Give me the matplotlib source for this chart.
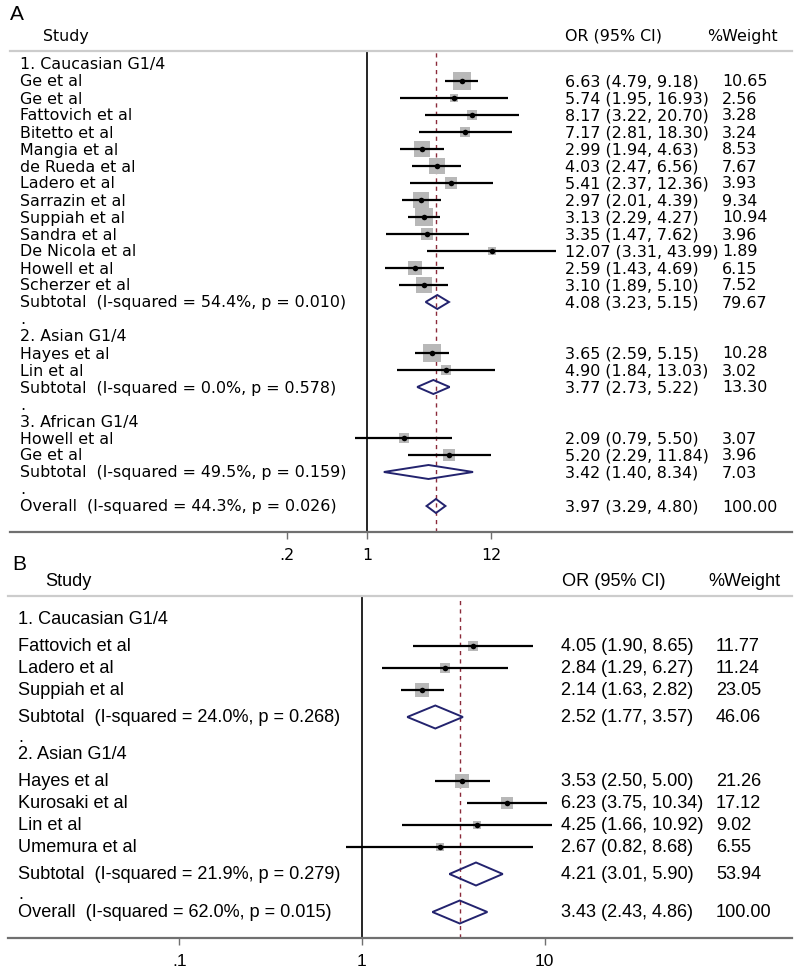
import matplotlib.pyplot as plt
import matplotlib.transforms as mtransforms
import numpy as np


# DATA - panel A (G1/4)

a_cau_names = ["Ge et al", "Ge et al", "Fattovich et al", "Bitetto et al",
               "Mangia et al", "de Rueda et al", "Ladero et al", "Sarrazin et al",
               "Suppiah et al", "Sandra et al", "De Nicola et al", "Howell et al",
               "Scherzer et al"]
a_cau_or = [6.63, 5.74, 8.17, 7.17, 2.99, 4.03, 5.41, 2.97, 3.13, 3.35, 12.07, 2.59, 3.10]
a_cau_lo = [4.79, 1.95, 3.22, 2.81, 1.94, 2.47, 2.37, 2.01, 2.29, 1.47, 3.31, 1.43, 1.89]
a_cau_hi = [9.18, 16.93, 20.70, 18.30, 4.63, 6.56, 12.36, 4.39, 4.27, 7.62, 43.99, 4.69, 5.10]
a_cau_w = [10.65, 2.56, 3.28, 3.24, 8.53, 7.67, 3.93, 9.34, 10.94, 3.96, 1.89, 6.15, 7.52]
a_cau_sub = [4.08, 3.23, 5.15, 79.67, 54.4, 0.010]   # OR, lo, hi, weight, I2, p

a_asi_names = ["Hayes et al", "Lin et al"]
a_asi_or = [3.65, 4.90]
a_asi_lo = [2.59, 1.84]
a_asi_hi = [5.15, 13.03]
a_asi_w = [10.28, 3.02]
a_asi_sub = [3.77, 2.73, 5.22, 13.30, 0.0, 0.578]

a_afr_names = ["Howell et al", "Ge et al"]
a_afr_or = [2.09, 5.20]
a_afr_lo = [0.79, 2.29]
a_afr_hi = [5.50, 11.84]
a_afr_w = [3.07, 3.96]
a_afr_sub = [3.42, 1.40, 8.34, 7.03, 49.5, 0.159]

a_overall = [3.97, 3.29, 4.80, 100.00, 44.3, 0.026]
a_ticks = [0.2, 1, 12]
a_tick_labels = [".2", "1", "12"]

# DATA - panel B

b_cau_names = ["Fattovich et al", "Ladero et al", "Suppiah et al"]
b_cau_or = [4.05, 2.84, 2.14]
b_cau_lo = [1.90, 1.29, 1.63]
b_cau_hi = [8.65, 6.27, 2.82]
b_cau_w = [11.77, 11.24, 23.05]
b_cau_sub = [2.52, 1.77, 3.57, 46.06, 24.0, 0.268]

b_asi_names = ["Hayes et al", "Kurosaki et al", "Lin et al", "Umemura et al"]
b_asi_or = [3.53, 6.23, 4.25, 2.67]
b_asi_lo = [2.50, 3.75, 1.66, 0.82]
b_asi_hi = [5.00, 10.34, 10.92, 8.68]
b_asi_w = [21.26, 17.12, 9.02, 6.55]
b_asi_sub = [4.21, 3.01, 5.90, 53.94, 21.9, 0.279]

b_overall = [3.43, 2.43, 4.86, 100.00, 62.0, 0.015]
b_ticks = [0.1, 1, 10]
b_tick_labels = [".1", "1", "10"]


# Build the list of rows of a forest plot

def build_rows(groups, overall):
    rows = []
    for head, names, ors, los, his, ws, sub in groups:
        rows.append(("head", head))
        for i in range(len(names)):
            rows.append(("study", names[i], ors[i], los[i], his[i], ws[i]))
        lab = "Subtotal  (I-squared = %.1f%%, p = %.3f)" % (sub[4], sub[5])
        rows.append(("sub", lab, sub[0], sub[1], sub[2], sub[3]))
        rows.append(("dot",))
    lab = "Overall  (I-squared = %.1f%%, p = %.3f)" % (overall[4], overall[5])
    rows.append(("sub", lab, overall[0], overall[1], overall[2], overall[3]))
    return rows


rows_a = build_rows([("1. Caucasian G1/4", a_cau_names, a_cau_or, a_cau_lo, a_cau_hi, a_cau_w, a_cau_sub),
                     ("2. Asian G1/4", a_asi_names, a_asi_or, a_asi_lo, a_asi_hi, a_asi_w, a_asi_sub),
                     ("3. African G1/4", a_afr_names, a_afr_or, a_afr_lo, a_afr_hi, a_afr_w, a_afr_sub)],
                    a_overall)
rows_b = build_rows([("1. Caucasian G1/4", b_cau_names, b_cau_or, b_cau_lo, b_cau_hi, b_cau_w, b_cau_sub),
                     ("2. Asian G1/4", b_asi_names, b_asi_or, b_asi_lo, b_asi_hi, b_asi_w, b_asi_sub)],
                    b_overall)


# Vertical layout (pixels from the top)

def rows_y_uniform(rows, y0, step):
    return [y0 + step * i for i in range(len(rows))]


def rows_y_gaps(rows, y0):
    ys = [y0]
    for prev, cur in zip(rows[:-1], rows[1:]):
        if cur[0] == "dot":
            gap = 20
        elif prev[0] == "dot":
            gap = 17 if cur[0] == "head" else 18
        elif cur[0] == "sub" or prev[0] == "head":
            gap = 27
        else:
            gap = 22
        ys.append(ys[-1] + gap)
    return ys


W, H = 797, 979
fig = plt.figure(figsize=(W / 100, H / 100), dpi=100)

GRAY_BOX = "#b8b8b8"
NAVY = "#23236e"
DASH_RED = "#8b2a3a"


def draw_panel(rows, ys, box, x_one, px_ln, cols, font, fsize, box_k, dia_h,
               ticks, tick_labels, tick_font, tick_size, headers_y):
    left, right, top, bottom = box
    ax = fig.add_axes([left / W, 1 - bottom / H, (right - left) / W, (bottom - top) / H])
    ax.set_ylim(bottom, top)
    ax.set_xscale("log")
    ax.set_xlim(np.exp((left - x_one) / px_ln), np.exp((right - x_one) / px_ln))

    tr = mtransforms.blended_transform_factory(fig.transFigure, ax.transData)
    lab_x, or_x, w_x = cols
    txt = dict(transform=tr, family=font, fontsize=fsize, va="center", ha="left",
               clip_on=False)

    overall = [r for r in rows if r[0] == "sub"][-1][2]
    ax.axvline(1, color="black", lw=1.2, zorder=1)
    ax.axvline(overall, color=DASH_RED, lw=1, ls=(0, (3, 3)), zorder=1)

    for r, y in zip(rows, ys):
        if r[0] == "head":
            ax.text(lab_x / W, y, r[1], **txt)
        elif r[0] == "dot":
            ax.text(lab_x / W, y, ".", **txt)
        else:
            kind, lab, est, lo, hi, w = r
            if kind == "study":
                ax.hlines(y, lo, hi, color="black", lw=1.6, zorder=3)
                ax.scatter([est], [y], s=w * box_k, marker="s", color=GRAY_BOX,
                           linewidths=0, zorder=2)
                ax.scatter([est], [y], s=16, marker="o", color="black",
                           linewidths=0, zorder=4)
            else:
                ax.fill([lo, est, hi, est], [y, y - dia_h / 2, y, y + dia_h / 2],
                        facecolor="none", edgecolor=NAVY, lw=1.4, zorder=3)
            ax.text(lab_x / W, y, lab, **txt)
            ax.text(or_x / W, y, "%.2f (%.2f, %.2f)" % (est, lo, hi), **txt)
            ax.text(w_x / W, y, "%.2f" % w, **txt)

    # headers
    hy, study_x, orh_x, wh_x = headers_y
    ax.text(study_x / W, hy, "Study", **txt)
    ax.text(orh_x / W, hy, "OR (95% CI)", **txt)
    ax.text(wh_x / W, hy, "%Weight", **txt)

    for s in ["left", "right"]:
        ax.spines[s].set_visible(False)
    ax.spines["top"].set_color("#cccccc")
    ax.spines["top"].set_linewidth(1.6)
    ax.spines["bottom"].set_color("#707070")
    ax.spines["bottom"].set_linewidth(1.6)
    ax.set_yticks([])
    ax.minorticks_off()
    ax.set_xticks(ticks)
    ax.set_xticklabels(tick_labels, family=tick_font, fontsize=tick_size)
    ax.tick_params(axis="x", direction="out", length=5, width=1, color="#707070", pad=6)
    ax.set_facecolor("none")
    return ax


ys_a = rows_y_uniform(rows_a, 65, 17)
draw_panel(rows_a, ys_a, (10, 792, 52, 533), 367, 50.0, (20, 565, 722),
           "DejaVu Sans", 11.4, 16.0, 14, a_ticks, a_tick_labels, "DejaVu Sans", 11.4,
           (36, 43, 565, 707))

ys_b = rows_y_gaps(rows_b, 620)
draw_panel(rows_b, ys_b, (8, 792, 597, 939), 362, 79.3, (18, 561, 716),
           "Liberation Sans", 13.1, 4.6, 23, b_ticks, b_tick_labels, "Liberation Sans", 12.5,
           (582, 45, 562, 708))

# Panel letters
fig.text(17 / W, 1 - 14 / H, "A", family="Liberation Sans", fontsize=15, ha="center", va="center")
fig.text(19 / W, 1 - 564 / H, "B", family="Liberation Sans", fontsize=15, ha="center", va="center")

plt.savefig("out.png", dpi=100)
